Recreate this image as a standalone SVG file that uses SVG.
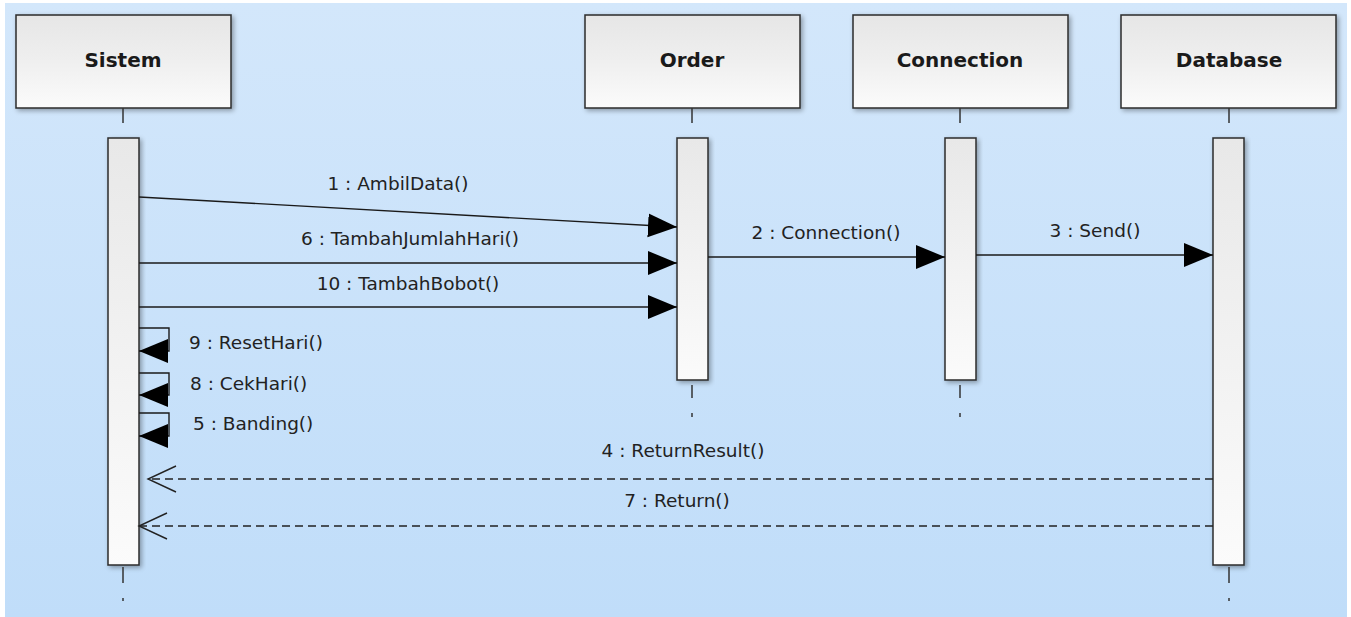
<svg xmlns="http://www.w3.org/2000/svg" width="1351" height="617" viewBox="0 0 1351 617">
<defs>
<linearGradient id="bg" x1="0" y1="0" x2="0" y2="1"><stop offset="0" stop-color="#d3e7fb"/><stop offset="1" stop-color="#c0ddf9"/></linearGradient>
<linearGradient id="hd" x1="0" y1="0" x2="0" y2="1"><stop offset="0" stop-color="#e6e6e6"/><stop offset="0.5" stop-color="#efefef"/><stop offset="1" stop-color="#fbfbfb"/></linearGradient>
<linearGradient id="act" x1="0" y1="0" x2="0" y2="1"><stop offset="0" stop-color="#e8e8e8"/><stop offset="1" stop-color="#fbfbfb"/></linearGradient>
<filter id="sh" x="-20%" y="-20%" width="140%" height="140%"><feGaussianBlur in="SourceAlpha" stdDeviation="2.5"/><feOffset dx="2" dy="2"/><feComponentTransfer><feFuncA type="linear" slope="0.35"/></feComponentTransfer><feMerge><feMergeNode/><feMergeNode in="SourceGraphic"/></feMerge></filter>
<marker id="fill" markerUnits="userSpaceOnUse" markerWidth="30" markerHeight="26" refX="29" refY="12" orient="auto"><path d="M0,0 L29,12 L0,24 Z" fill="#000"/></marker>
<marker id="open" markerUnits="userSpaceOnUse" markerWidth="32" markerHeight="30" refX="29" refY="14" orient="auto"><path d="M1,1 L29,14 L1,27" fill="none" stroke="#222" stroke-width="1.4"/></marker>
</defs>
<style>
.head{fill:url(#hd);stroke:#2b2b2b;stroke-width:1.5;filter:url(#sh)}
.act{fill:url(#act);stroke:#2b2b2b;stroke-width:1.5;filter:url(#sh)}
.ttl{font-family:"DejaVu Sans",Verdana,sans-serif;font-weight:bold;font-size:20px;fill:#1a1a1a;text-anchor:middle}
.lbl{font-family:"DejaVu Sans",Verdana,sans-serif;font-size:18.5px;fill:#222}
.mid{text-anchor:middle}
.ll{stroke:#333;stroke-width:1.5}
.msg{stroke:#1a1a1a;stroke-width:1.4;fill:none}
.ret{stroke:#222;stroke-width:1.4;stroke-dasharray:8,5;fill:none}
</style>
<rect x="5" y="3" width="1342" height="614" fill="url(#bg)"/>

<g id="sistem">
<rect class="head" x="16" y="15" width="215" height="93"/>
<text class="ttl" x="123" y="67">Sistem</text>
<line class="ll" x1="123" y1="108" x2="123" y2="123"/>
<rect class="act" x="108" y="138" width="31" height="427"/>
<line class="ll" x1="123" y1="567" x2="123" y2="583"/>
<line class="ll" x1="123" y1="598" x2="123" y2="601"/>
</g>
<g id="order">
<rect class="head" x="585" y="15" width="215" height="93"/>
<text class="ttl" x="692" y="67">Order</text>
<line class="ll" x1="692" y1="108" x2="692" y2="123"/>
<rect class="act" x="677" y="138" width="31" height="242"/>
<line class="ll" x1="692" y1="385" x2="692" y2="398"/>
<line class="ll" x1="692" y1="413" x2="692" y2="417"/>
</g>
<g id="connection">
<rect class="head" x="853" y="15" width="215" height="93"/>
<text class="ttl" x="960" y="67">Connection</text>
<line class="ll" x1="960" y1="108" x2="960" y2="123"/>
<rect class="act" x="945" y="138" width="31" height="242"/>
<line class="ll" x1="960" y1="385" x2="960" y2="398"/>
<line class="ll" x1="960" y1="413" x2="960" y2="417"/>
</g>
<g id="database">
<rect class="head" x="1121" y="15" width="215" height="93"/>
<text class="ttl" x="1229" y="67">Database</text>
<line class="ll" x1="1229" y1="108" x2="1229" y2="123"/>
<rect class="act" x="1213" y="138" width="31" height="427"/>
<line class="ll" x1="1229" y1="567" x2="1229" y2="583"/>
<line class="ll" x1="1229" y1="598" x2="1229" y2="601"/>
</g>

<g id="connectors">
<line class="msg" x1="139" y1="197" x2="677" y2="227" marker-end="url(#fill)"/>
<text class="lbl mid" x="398" y="190">1 : AmbilData()</text>
<line class="msg" x1="139" y1="263" x2="677" y2="263" marker-end="url(#fill)"/>
<text class="lbl mid" x="410" y="245">6 : TambahJumlahHari()</text>
<line class="msg" x1="139" y1="307" x2="677" y2="307" marker-end="url(#fill)"/>
<text class="lbl mid" x="408" y="290">10 : TambahBobot()</text>
<line class="msg" x1="708" y1="257" x2="945" y2="257" marker-end="url(#fill)"/>
<text class="lbl mid" x="826" y="239">2 : Connection()</text>
<line class="msg" x1="976" y1="255" x2="1213" y2="255" marker-end="url(#fill)"/>
<text class="lbl mid" x="1095" y="237">3 : Send()</text>
<path class="msg" d="M139,328 H169 V351 H139" marker-end="url(#fill)"/>
<text class="lbl" x="189" y="349">9 : ResetHari()</text>
<path class="msg" d="M139,373 H169 V395 H139" marker-end="url(#fill)"/>
<text class="lbl" x="190" y="390">8 : CekHari()</text>
<path class="msg" d="M139,413 H169 V436 H139" marker-end="url(#fill)"/>
<text class="lbl" x="193" y="430">5 : Banding()</text>
<line class="ret" x1="1213" y1="479" x2="148" y2="479" marker-end="url(#open)"/>
<text class="lbl mid" x="683" y="457">4 : ReturnResult()</text>
<line class="ret" x1="1213" y1="526" x2="139" y2="526" marker-end="url(#open)"/>
<text class="lbl mid" x="677" y="507">7 : Return()</text>
</g>
</svg>
